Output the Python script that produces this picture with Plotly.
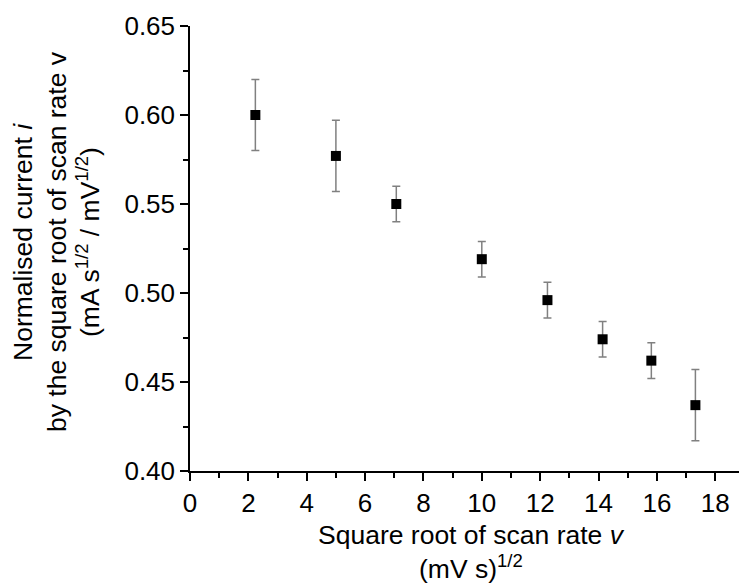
import plotly.graph_objects as go

# Data
scan_rate_sqrt = [2.24, 5.00, 7.07, 10.00, 12.25, 14.14, 15.81, 17.32]
norm_current = [0.600, 0.577, 0.550, 0.519, 0.496, 0.474, 0.462, 0.437]
err = [0.020, 0.020, 0.010, 0.010, 0.010, 0.010, 0.010, 0.020]

x_ticks = [0, 2, 4, 6, 8, 10, 12, 14, 16, 18]
y_ticks = [0.40, 0.45, 0.50, 0.55, 0.60, 0.65]
y_ticklabels = ["0.40", "0.45", "0.50", "0.55", "0.60", "0.65"]

FONT = "Liberation Sans, Arial, sans-serif"
W, H = 739, 585
ML, MR, MT, MB = 190, 0, 26, 114
PW, PH = W - ML - MR, H - MT - MB


def px2paper_x(px):
    return (px - ML) / PW


def px2paper_y(py):
    return (H - MB - py) / PH


fig = go.Figure()
fig.add_trace(go.Scatter(
    x=scan_rate_sqrt, y=norm_current, mode="markers",
    marker=dict(symbol="square", size=10, color="black", line=dict(width=0)),
    error_y=dict(type="data", array=err, visible=True, color="#808080",
                 thickness=1.5, width=4),
    showlegend=False, cliponaxis=False,
))

axis_common = dict(
    showline=True, linecolor="black", linewidth=1.5,
    ticks="outside", ticklen=8, tickwidth=1.5, tickcolor="black",
    showgrid=False, zeroline=False, mirror=False,
    tickfont=dict(family=FONT, size=26, color="black"),
)

fig.update_layout(
    width=W, height=H,
    margin=dict(l=ML, r=MR, t=MT, b=MB, pad=0),
    plot_bgcolor="white", paper_bgcolor="white",
    font=dict(family=FONT, color="black"),
    xaxis=dict(range=[0, PW / 29.18], tickvals=x_ticks,
               minor=dict(dtick=1, tick0=0, ticks="outside", ticklen=5,
                          tickwidth=1.5, tickcolor="black"),
               ticklabelstandoff=0,
               **axis_common),
    yaxis=dict(range=[0.40, 0.65], tickvals=y_ticks, ticktext=y_ticklabels,
               minor=dict(dtick=0.025, tick0=0.4, ticks="outside", ticklen=5,
                          tickwidth=1.5, tickcolor="black"),
               ticklabelstandoff=0,
               **axis_common),
)

title_font = dict(family=FONT, size=26.5, color="black")
annos = [
    # x-axis title
    dict(text="Square root of scan rate <i>v</i>", x=px2paper_x(471), y=px2paper_y(535),
         textangle=0),
    dict(text="(mV s)<sup>1/2</sup>", x=px2paper_x(471), y=px2paper_y(567), textangle=0),
    # y-axis title
    dict(text="Normalised current <i>i</i>", x=px2paper_x(23), y=px2paper_y(242),
         textangle=-90),
    dict(text="by the square root of scan rate v", x=px2paper_x(57), y=px2paper_y(242),
         textangle=-90),
    dict(text="(mA s<sup>1/2</sup> / mV<sup>1/2</sup>)", x=px2paper_x(88), y=px2paper_y(242),
         textangle=-90),
]
for a in annos:
    fig.add_annotation(xref="paper", yref="paper", showarrow=False,
                       xanchor="center", yanchor="middle", font=title_font, **a)

fig.write_html("out.html")
